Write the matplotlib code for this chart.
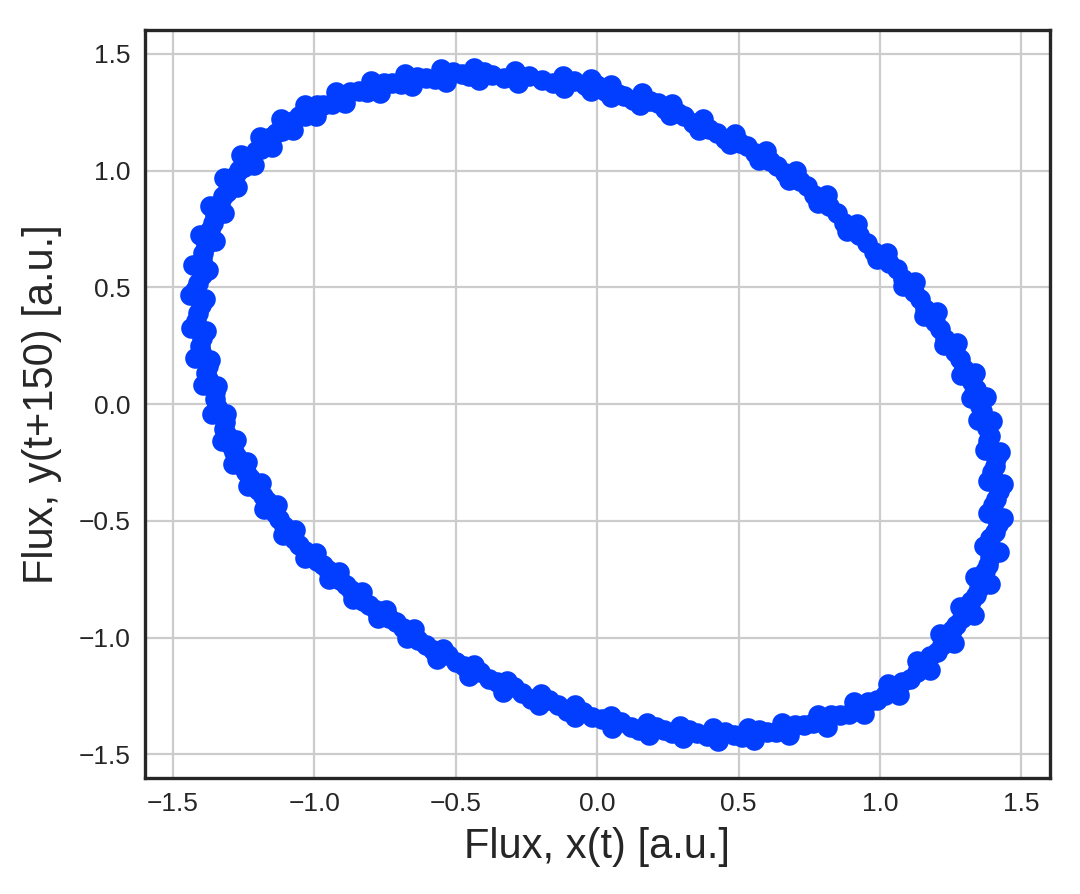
import numpy as np
import matplotlib
matplotlib.use('Agg')
import matplotlib.pyplot as plt
import seaborn as sns

# Flux samples read off the phase portrait: x(t) against y(t+150)
# centre of the band
x_mid = [-0.043, -0.196, -0.372, -0.478, -0.607, -0.724, -0.842, -0.971, -1.053, -1.136,
         -1.206, -1.265, -1.324, -1.359, -1.394, -1.412, -1.412, -1.406, -1.382, -1.353,
         -1.318, -1.283, -1.241, -1.183, -1.124, -1.053, -0.971, -0.889, -0.807, -0.713,
         -0.607, -0.501, -0.384, -0.266, -0.137, -0.019, 0.120, 0.237, 0.354, 0.484,
         0.601, 0.730, 0.859, 0.988, 1.106, 1.200, 1.270, 1.340, 1.381, 1.405,
         1.411, 1.405, 1.387, 1.352, 1.340, 1.282, 1.211, 1.141, 1.059, 0.953,
         0.847, 0.742, 0.636, 0.531, 0.425, 0.308, 0.214, 0.096, 0.002]
y_mid = [1.368, 1.389, 1.410, 1.415, 1.396, 1.375, 1.339, 1.282, 1.232, 1.161,
         1.083, 1.004, 0.890, 0.776, 0.648, 0.520, 0.392, 0.249, 0.135, 0.021,
         -0.107, -0.207, -0.292, -0.392, -0.491, -0.605, -0.691, -0.776, -0.862, -0.933,
         -1.033, -1.104, -1.175, -1.239, -1.289, -1.339, -1.382, -1.396, -1.410, -1.417,
         -1.403, -1.375, -1.332, -1.268, -1.175, -1.061, -0.947, -0.819, -0.691, -0.548,
         -0.406, -0.264, -0.135, -0.007, 0.064, 0.192, 0.321, 0.449, 0.577, 0.691,
         0.819, 0.933, 1.019, 1.104, 1.161, 1.232, 1.289, 1.318, 1.360]

# dots along the outer edge of the band
x_outer = [-0.122, -0.290, -0.434, -0.553, -0.679, -0.799, -0.925, -1.032, -1.117, -1.194,
           -1.260, -1.321, -1.369, -1.404, -1.431, -1.440, -1.437, -1.422, -1.395, -1.362,
           -1.327, -1.287, -1.236, -1.177, -1.111, -1.032, -0.949, -0.865, -0.775, -0.673,
           -0.565, -0.452, -0.332, -0.206, -0.080, 0.052, 0.183, 0.302, 0.427, 0.554,
           0.679, 0.811, 0.942, 1.068, 1.176, 1.260, 1.331, 1.388, 1.421, 1.436,
           1.436, 1.424, 1.397, 1.373, 1.337, 1.272, 1.200, 1.122, 1.026, 0.918,
           0.811, 0.703, 0.596, 0.488, 0.374, 0.266, 0.158, 0.050, -0.021]
y_outer = [1.406, 1.428, 1.441, 1.434, 1.413, 1.384, 1.337, 1.282, 1.221, 1.144,
           1.065, 0.966, 0.850, 0.726, 0.596, 0.465, 0.327, 0.196, 0.080, -0.044,
           -0.160, -0.255, -0.349, -0.451, -0.559, -0.661, -0.749, -0.835, -0.916, -1.003,
           -1.090, -1.163, -1.231, -1.289, -1.340, -1.388, -1.417, -1.431, -1.442, -1.438,
           -1.417, -1.381, -1.326, -1.246, -1.140, -1.024, -0.901, -0.770, -0.632, -0.487,
           -0.342, -0.204, -0.072, 0.030, 0.131, 0.262, 0.393, 0.523, 0.647, 0.770,
           0.894, 0.996, 1.083, 1.156, 1.221, 1.286, 1.330, 1.366, 1.391]

# dots along the inner edge of the band
x_inner = [-0.118, -0.279, -0.417, -0.533, -0.654, -0.769, -0.891, -0.994, -1.075, -1.150,
           -1.214, -1.272, -1.318, -1.352, -1.378, -1.387, -1.384, -1.369, -1.343, -1.312,
           -1.278, -1.239, -1.190, -1.133, -1.069, -0.994, -0.913, -0.833, -0.746, -0.648,
           -0.544, -0.435, -0.319, -0.198, -0.077, 0.050, 0.176, 0.291, 0.411, 0.533,
           0.654, 0.781, 0.907, 1.028, 1.132, 1.213, 1.282, 1.336, 1.368, 1.383,
           1.383, 1.371, 1.345, 1.322, 1.287, 1.225, 1.155, 1.080, 0.988, 0.884,
           0.781, 0.677, 0.573, 0.469, 0.360, 0.256, 0.152, 0.048, -0.021]
y_inner = [1.354, 1.375, 1.388, 1.381, 1.361, 1.333, 1.287, 1.234, 1.175, 1.102,
           1.025, 0.930, 0.818, 0.699, 0.573, 0.448, 0.315, 0.189, 0.077, -0.042,
           -0.154, -0.246, -0.336, -0.434, -0.538, -0.636, -0.721, -0.804, -0.882, -0.965,
           -1.050, -1.119, -1.185, -1.241, -1.290, -1.337, -1.364, -1.378, -1.389, -1.385,
           -1.364, -1.330, -1.277, -1.200, -1.098, -0.986, -0.867, -0.741, -0.609, -0.468,
           -0.329, -0.196, -0.070, 0.028, 0.126, 0.252, 0.378, 0.504, 0.623, 0.741,
           0.860, 0.958, 1.043, 1.113, 1.175, 1.238, 1.281, 1.315, 1.339]

# extra samples in between (second and third passes of the orbit)
x_pass2 = [-0.081, -0.240, -0.399, -0.510, -0.636, -0.754, -0.874, -0.992, -1.074, -1.154,
           -1.221, -1.280, -1.333, -1.368, -1.399, -1.422, -1.418, -1.400, -1.375, -1.344,
           -1.309, -1.273, -1.227, -1.168, -1.106, -1.033, -0.951, -0.869, -0.784, -0.687,
           -0.581, -0.472, -0.355, -0.234, -0.108, 0.016, 0.149, 0.266, 0.387, 0.513,
           0.633, 0.762, 0.891, 1.018, 1.130, 1.218, 1.288, 1.350, 1.387, 1.417,
           1.420, 1.410, 1.378, 1.349, 1.326, 1.264, 1.194, 1.121, 1.033, 0.927,
           0.821, 0.716, 0.610, 0.505, 0.396, 0.285, 0.185, 0.073, -0.009]
y_pass2 = [1.383, 1.404, 1.421, 1.420, 1.401, 1.376, 1.335, 1.280, 1.214, 1.142,
           1.063, 0.976, 0.862, 0.744, 0.616, 0.488, 0.356, 0.221, 0.107, -0.011,
           -0.132, -0.228, -0.317, -0.417, -0.520, -0.627, -0.712, -0.798, -0.880, -0.958,
           -1.051, -1.122, -1.191, -1.262, -1.312, -1.350, -1.396, -1.410, -1.422, -1.424,
           -1.406, -1.364, -1.326, -1.245, -1.147, -1.033, -0.915, -0.787, -0.655, -0.513,
           -0.371, -0.232, -0.103, 0.011, 0.096, 0.224, 0.353, 0.481, 0.606, 0.723,
           0.848, 0.955, 1.040, 1.118, 1.179, 1.246, 1.296, 1.329, 1.372]
x_pass3 = [-0.158, -0.328, -0.452, -0.575, -0.695, -0.813, -0.939, -1.033, -1.115, -1.189,
           -1.250, -1.309, -1.350, -1.385, -1.398, -1.402, -1.398, -1.378, -1.350, -1.317,
           -1.292, -1.252, -1.198, -1.139, -1.071, -0.992, -0.910, -0.828, -0.737, -0.634,
           -0.528, -0.413, -0.296, -0.169, -0.049, 0.085, 0.208, 0.325, 0.452, 0.572,
           0.698, 0.827, 0.956, 1.077, 1.177, 1.253, 1.323, 1.371, 1.389, 1.400,
           1.397, 1.382, 1.361, 1.333, 1.297, 1.229, 1.159, 1.080, 0.980, 0.874,
           0.768, 0.663, 0.557, 0.452, 0.337, 0.238, 0.126, 0.026, -0.032]
y_pass3 = [1.374, 1.395, 1.404, 1.391, 1.370, 1.338, 1.286, 1.235, 1.169, 1.093,
           1.014, 0.909, 0.805, 0.680, 0.552, 0.424, 0.285, 0.164, 0.050, -0.075,
           -0.182, -0.271, -0.367, -0.466, -0.577, -0.670, -0.755, -0.841, -0.915, -1.008,
           -1.076, -1.147, -1.213, -1.267, -1.317, -1.361, -1.383, -1.397, -1.405, -1.397,
           -1.372, -1.333, -1.274, -1.188, -1.080, -0.966, -0.841, -0.713, -0.574, -0.432,
           -0.290, -0.157, -0.029, 0.046, 0.150, 0.279, 0.407, 0.535, 0.653, 0.777,
           0.895, 0.988, 1.073, 1.137, 1.204, 1.265, 1.301, 1.340, 1.356]

x = np.concatenate([x_mid, x_outer, x_inner, x_pass2, x_pass3])
y = np.concatenate([y_mid, y_outer, y_inner, y_pass2, y_pass3])

sns.set_style('white')
plt.rcParams['font.family'] = ['Liberation Sans', 'DejaVu Sans']

fig = plt.figure(figsize=(5.4, 4.47), dpi=200)
ax = fig.add_axes([0.134, 0.130, 0.838, 0.836])
ax.scatter(x, y, s=55, color='#023eff', linewidths=0, zorder=3)

ax.set_xlim(-1.6, 1.6)
ax.set_ylim(-1.6, 1.6)
ax.set_xticks([-1.5, -1.0, -0.5, 0.0, 0.5, 1.0, 1.5])
ax.set_yticks([-1.5, -1.0, -0.5, 0.0, 0.5, 1.0, 1.5])
ax.grid(True, color='#cccccc', linewidth=0.8)
ax.tick_params(labelsize=9.5, colors='#262626', length=0, pad=5)
for sp in ax.spines.values():
    sp.set_color('#262626')
    sp.set_linewidth(1.2)

ax.set_xlabel('Flux, x(t) [a.u.]', fontsize=15, color='#262626', labelpad=4)
ax.set_ylabel('Flux, y(t+150) [a.u.]', fontsize=15, color='#262626', labelpad=6)

fig.savefig('out.png', dpi=200)
